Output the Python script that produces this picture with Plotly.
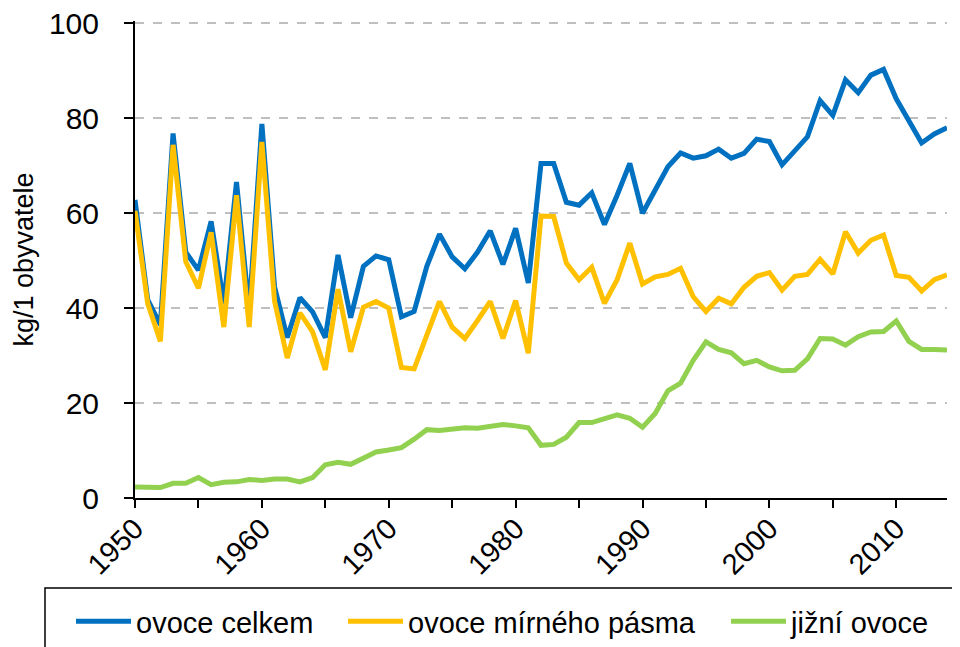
import plotly.graph_objects as go

years = list(range(1950, 2015))

ovoce_celkem = [62.8, 41.8, 36.5, 76.8, 51.8, 48.0, 58.3, 41.0, 66.6, 39.5,
                78.8, 44.5, 33.8, 42.2, 39.2, 33.8, 51.2, 38.0, 48.8, 51.0,
                50.2, 38.2, 39.3, 48.8, 55.6, 50.8, 48.3, 51.8, 56.3, 49.2,
                56.8, 45.3, 70.5, 70.5, 62.3, 61.7, 64.3, 57.6, 63.8, 70.5,
                60.0, 64.9, 69.8, 72.7, 71.6, 72.1, 73.5, 71.6, 72.6, 75.6,
                75.1, 70.2, 73.3, 76.1, 83.7, 80.6, 88.1, 85.4, 89.1, 90.3,
                84.1, 79.6, 74.8, 76.7, 78.0]

ovoce_mirneho = [60.5, 41.0, 33.0, 74.4, 49.8, 44.2, 56.0, 36.0, 63.8, 36.0,
                 75.0, 41.5, 29.5, 39.0, 35.0, 27.0, 44.0, 30.8, 40.2, 41.4,
                 40.0, 27.5, 27.2, 34.4, 41.4, 36.0, 33.6, 37.4, 41.4, 33.6,
                 41.6, 30.5, 59.4, 59.3, 49.5, 46.0, 48.6, 41.0, 46.0, 53.7,
                 45.1, 46.6, 47.1, 48.4, 42.4, 39.3, 42.1, 40.9, 44.4, 46.7,
                 47.5, 43.8, 46.7, 47.1, 50.3, 47.2, 56.1, 51.6, 54.3, 55.4,
                 46.9, 46.5, 43.6, 46.0, 47.0]

jizni_ovoce = [2.3, 2.3, 2.2, 3.1, 3.1, 4.3, 2.8, 3.3, 3.4, 3.9,
               3.7, 4.0, 4.0, 3.4, 4.3, 7.0, 7.5, 7.1, 8.5, 9.7,
               10.1, 10.6, 12.4, 14.4, 14.2, 14.6, 14.8, 14.7, 15.1, 15.5,
               15.2, 14.8, 11.1, 11.3, 12.8, 15.9, 15.9, 16.7, 17.5, 16.8,
               14.9, 17.8, 22.6, 24.2, 29.0, 32.9, 31.3, 30.6, 28.3, 29.0,
               27.6, 26.8, 26.9, 29.3, 33.6, 33.5, 32.2, 34.0, 35.0, 35.1,
               37.3, 33.0, 31.3, 31.3, 31.2]

series_names = ["ovoce celkem", "ovoce mírného pásma", "jižní ovoce"]
series_colors = ["#0070C0", "#FFC000", "#92D050"]
y_title = "kg/1 obyvatele"

FONT = "Liberation Sans, Arial, sans-serif"

# The page body adds an 8px offset; targets below are in screen pixels.
OFF = 8
W, H = 960, 647
PLOT_X0, PLOT_X1, PLOT_Y0, PLOT_Y1 = 135, 947, 21, 498  # screen px of plot area
L = PLOT_X0 - OFF
T = PLOT_Y0 - OFF
R = W - (PLOT_X1 - OFF)
B = H - (PLOT_Y1 - OFF)
PW = W - L - R
PH = H - T - B


def px_x(p):
    return (p - OFF - L) / PW


def px_y(p):
    return (H - B - (p - OFF)) / PH


legend_ids = ["legend", "legend2", "legend3"]
legend_left_px = [71, 343, 726]

fig = go.Figure()
for name, vals, col, lid in zip(series_names,
                                [ovoce_celkem, ovoce_mirneho, jizni_ovoce],
                                series_colors, legend_ids):
    fig.add_trace(go.Scatter(x=years, y=vals, mode="lines", name=name,
                             line=dict(color=col, width=5), legend=lid))

legend_common = dict(orientation="h", xanchor="left", yanchor="top",
                     font=dict(size=29, family=FONT, color="black"),
                     bgcolor="rgba(0,0,0,0)", borderwidth=0, itemwidth=55)

layout_legends = {}
for lid, lx in zip(legend_ids, legend_left_px):
    layout_legends[lid] = dict(legend_common, x=px_x(lx), y=px_y(596))

fig.update_layout(
    width=W, height=H,
    margin=dict(l=L, r=R, t=T, b=B, autoexpand=False),
    paper_bgcolor="white", plot_bgcolor="white",
    font=dict(family=FONT, size=29, color="black"),
    showlegend=True,
    **layout_legends,
)

fig.update_xaxes(
    range=[1950, 2014], tickmode="linear", tick0=1950, dtick=10,
    tickangle=-45, ticks="outside", ticklen=8, tickwidth=2, tickcolor="black",
    showline=True, linecolor="black", linewidth=2, showgrid=False, zeroline=False,
    tickfont=dict(size=29, family=FONT, color="black"),
    ticklabelstandoff=-8, ticklabeloverflow="allow",
    automargin=False,
    minor=dict(dtick=5, tick0=1950, ticks="outside", ticklen=8, tickwidth=2,
               tickcolor="black", showgrid=False),
)

fig.update_yaxes(
    range=[0, 100.5], tickmode="linear", tick0=0, dtick=20,
    ticks="outside", ticklen=9, tickwidth=2, tickcolor="black",
    showline=True, linecolor="black", linewidth=2,
    showgrid=True, gridcolor="#BFBFBF", gridwidth=2, griddash="dash",
    zeroline=False, automargin=False,
    tickfont=dict(size=30, family=FONT, color="black"),
    ticklabelstandoff=19, ticklabeloverflow="allow",
    title=dict(text=y_title, font=dict(size=27, family=FONT, color="black"), standoff=7),
)

# legend frame (extends beyond the canvas as in the reference)
fig.add_shape(type="rect", xref="paper", yref="paper",
              x0=px_x(45), x1=px_x(1000), y0=px_y(690), y1=px_y(588),
              line=dict(color="black", width=1.5), fillcolor="rgba(0,0,0,0)", layer="below")

fig.write_html("out.html")
